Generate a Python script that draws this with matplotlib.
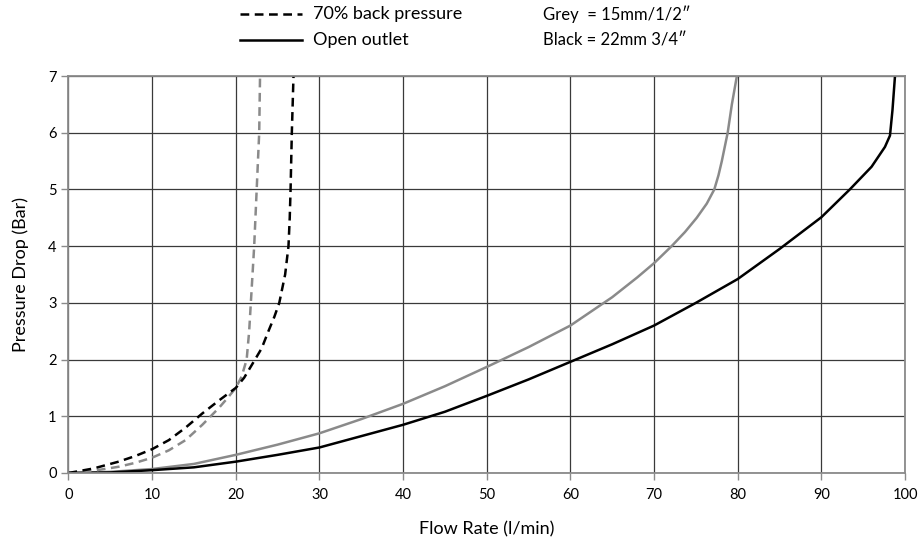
import numpy as np
import matplotlib
matplotlib.use("Agg")
import matplotlib.pyplot as plt

plt.rcParams['font.family'] = ['Lato', 'DejaVu Sans']

# 15mm (grey), 70% back pressure
grey_dash_x = [0, 3, 6, 8, 10, 12, 14, 16, 17, 18, 19, 20, 20.7, 21.3, 21.6, 21.8, 22.0, 22.2, 22.5, 22.8, 22.9]
grey_dash_y = [0, 0.04, 0.11, 0.18, 0.27, 0.40, 0.58, 0.85, 1.0, 1.15, 1.32, 1.5, 1.7, 2.0, 2.5, 3.0, 3.5, 4.0, 5.0, 6.0, 7.0]

# 22mm (black), 70% back pressure
black_dash_x = [0, 3, 6, 8, 10, 12, 14, 16, 18, 20, 21, 22.3, 23.1, 23.9, 24.6, 25.2, 25.9, 26.3, 26.45, 26.55, 26.7, 26.9]
black_dash_y = [0, 0.08, 0.2, 0.3, 0.42, 0.58, 0.8, 1.05, 1.28, 1.5, 1.68, 2.0, 2.2, 2.5, 2.75, 3.0, 3.5, 4.0, 4.5, 5.0, 6.0, 7.0]

# 15mm (grey), open outlet
grey_open_x = [0, 5, 10, 15, 20, 25, 30, 35, 40, 45, 50, 55, 60, 65, 68, 70, 72.1, 73.7, 75.1, 76.3, 77.2, 77.7, 78.1, 78.8, 79.3, 79.9]
grey_open_y = [0, 0.02, 0.07, 0.16, 0.32, 0.5, 0.7, 0.95, 1.22, 1.53, 1.87, 2.22, 2.6, 3.1, 3.45, 3.7, 4.0, 4.25, 4.5, 4.75, 5.0, 5.25, 5.5, 6.0, 6.5, 7.0]

# 22mm (black), open outlet
black_open_x = [0, 5, 10, 15, 20, 25, 30, 35, 40, 45, 50, 55, 60, 65, 70, 75, 80, 85, 90, 93.4, 96, 97.6, 98.2, 98.5, 98.8]
black_open_y = [0, 0.01, 0.05, 0.1, 0.2, 0.32, 0.45, 0.65, 0.85, 1.08, 1.36, 1.65, 1.96, 2.27, 2.6, 3.0, 3.42, 3.95, 4.51, 5.0, 5.4, 5.75, 5.95, 6.4, 7.0]

grey = '#8a8a8a'

fig = plt.figure(figsize=(9.19, 5.41), dpi=100)
ax = fig.add_axes([0.0745, 0.1257, 0.9103, 0.7338])

ax.plot(grey_open_x, grey_open_y, color=grey, lw=1.8)
ax.plot(black_open_x, black_open_y, color='black', lw=1.8)
ax.plot(grey_dash_x, grey_dash_y, color=grey, lw=1.8, dashes=(3.5, 2.2))
ax.plot(black_dash_x, black_dash_y, color='black', lw=1.8, dashes=(3.5, 2.2))

ax.set_xlim(0, 100)
ax.set_ylim(0, 7)
ax.set_xticks(np.arange(0, 101, 10))
ax.set_yticks(np.arange(0, 8, 1))
ax.grid(True, color='#3a3a3a', lw=0.9)
ax.set_axisbelow(True)
for s in ax.spines.values():
    s.set_color('#8a8a8a')
    s.set_linewidth(1.3)
ax.tick_params(axis='both', labelsize=10.5, color='#8a8a8a', length=5, width=1)
ax.tick_params(axis='x', pad=6)

ax.set_xlabel('Flow Rate (l/min)', fontsize=13, labelpad=14)
ax.set_ylabel('Pressure Drop (Bar)', fontsize=13, labelpad=14)

# legend-like header
fig.lines.append(plt.Line2D([240 / 919, 302 / 919], [1 - 14 / 541] * 2, transform=fig.transFigure,
                            color='black', lw=1.8, dashes=(3.5, 2.2)))
fig.lines.append(plt.Line2D([240 / 919, 302 / 919], [1 - 40 / 541] * 2, transform=fig.transFigure,
                            color='black', lw=1.8))
fig.text(313 / 919, 1 - 14 / 541, '70% back pressure', fontsize=13, va='center')
fig.text(313 / 919, 1 - 40 / 541, 'Open outlet', fontsize=13, va='center')
fig.text(543 / 919, 1 - 14 / 541, 'Grey  = 15mm/1/2\u2033', fontsize=12, va='center')
fig.text(543 / 919, 1 - 40 / 541, 'Black = 22mm 3/4\u2033', fontsize=12, va='center')

fig.savefig('out.png', dpi=100)
